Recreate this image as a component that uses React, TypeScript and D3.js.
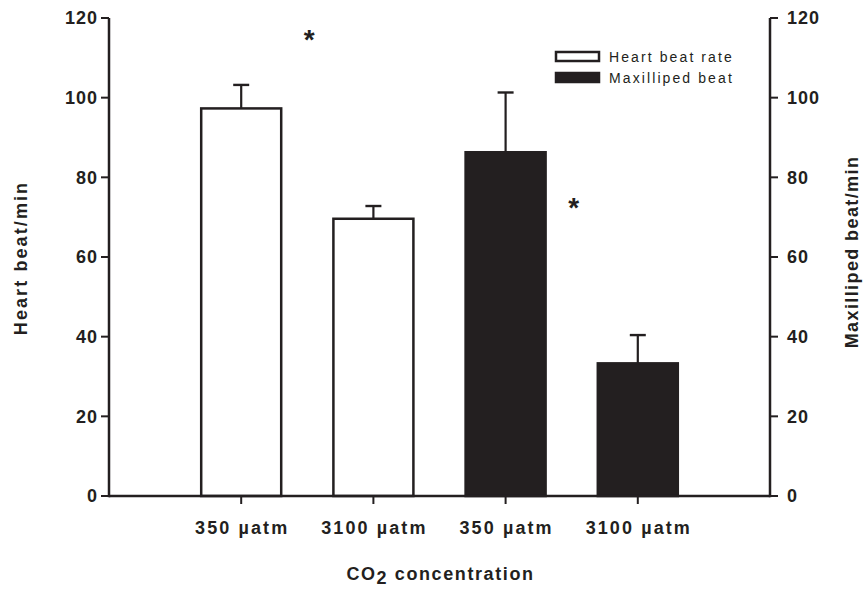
import React from "react";
import * as d3 from "d3";

const categories = ["350 µatm", "3100 µatm", "350 µatm", "3100 µatm"];
const seriesOf = ["Heart beat rate", "Heart beat rate", "Maxilliped beat", "Maxilliped beat"];
const means = [97.3, 69.6, 86.3, 33.3];
const errors = [5.9, 3.2, 15.0, 7.1];
const yTicks = [0, 20, 40, 60, 80, 100, 120];
const legendItems = ["Heart beat rate", "Maxilliped beat"];
const stars = [
  { after: 0, value: 117.4 },
  { after: 2, value: 75.4 },
];

const INK = "#231f20";

export default function App() {
  const W = 864, H = 590;
  const left = 109, right = 770, top = 18, bottom = 496;
  const idx = categories.map((_, i) => String(i));
  const x = d3.scalePoint<string>().domain(idx).range([left, right]).padding(1);
  const y = d3.scaleLinear().domain([0, 120]).range([bottom, top]);
  const step = x.step();
  const barW = 80;
  const font = "Liberation Sans, Arial, Helvetica, sans-serif";
  const fill = (s: string) => (s === legendItems[0] ? "#fff" : INK);
  const FS = 18;

  return (
    <svg width={W} height={H} style={{ position: "absolute", left: 0, top: 0 }} fontFamily={font}>
      <rect x={0} y={0} width={W} height={H} fill="#fff" />
      {/* bars */}
      {means.map((m, i) => {
        const cx = x(String(i))!;
        return (
          <g key={i}>
            <line x1={cx} x2={cx} y1={y(m)} y2={y(m + errors[i])} stroke={INK} strokeWidth={2.2} />
            <line x1={cx - 8} x2={cx + 8} y1={y(m + errors[i])} y2={y(m + errors[i])} stroke={INK} strokeWidth={2.4} />
            <rect
              x={cx - barW / 2}
              y={y(m)}
              width={barW}
              height={y(0) - y(m)}
              fill={fill(seriesOf[i])}
              stroke={INK}
              strokeWidth={2.5}
            />
          </g>
        );
      })}
      {/* axes */}
      <line x1={left} x2={right} y1={bottom} y2={bottom} stroke={INK} strokeWidth={2.5} />
      <line x1={left} x2={left} y1={top} y2={bottom + 1.25} stroke={INK} strokeWidth={2.5} />
      <line x1={right} x2={right} y1={top} y2={bottom + 1.25} stroke={INK} strokeWidth={2.5} />
      {yTicks.map((t) => (
        <g key={t}>
          <line x1={left - 8} x2={left} y1={y(t)} y2={y(t)} stroke={INK} strokeWidth={2} />
          <text x={left - 11} y={y(t)} dy="0.36em" textAnchor="end" fontSize={FS} fontWeight="bold" letterSpacing={1} fill={INK}>
            {t}
          </text>
          <line x1={right} x2={right + 8} y1={y(t)} y2={y(t)} stroke={INK} strokeWidth={2} />
          <text x={right + 17} y={y(t)} dy="0.36em" textAnchor="start" fontSize={FS} fontWeight="bold" letterSpacing={1} fill={INK}>
            {t}
          </text>
        </g>
      ))}
      {categories.map((c, i) => {
        const cx = x(String(i))!;
        return (
          <g key={i}>
            <line x1={cx} x2={cx} y1={bottom} y2={bottom + 8} stroke={INK} strokeWidth={2} />
            <text x={cx + 1} y={534} textAnchor="middle" fontSize={FS} fontWeight="bold" letterSpacing={2.1} fill={INK}>
              {c}
            </text>
          </g>
        );
      })}
      {/* axis titles */}
      <text x={(left + right) / 2 + 1} y={580} textAnchor="middle" fontSize={FS} fontWeight="bold" letterSpacing={1.6} fill={INK}>
        CO
        <tspan dy={4}>2</tspan>
        <tspan dy={-4}> concentration</tspan>
      </text>
      <text
        transform={`translate(27, 258) rotate(-90)`}
        textAnchor="middle"
        fontSize={FS}
        fontWeight="bold"
        letterSpacing={2.1}
        fill={INK}
      >
        Heart beat/min
      </text>
      <text
        transform={`translate(858, 252) rotate(-90)`}
        textAnchor="middle"
        fontSize={FS}
        fontWeight="bold"
        letterSpacing={1.4}
        fill={INK}
      >
        Maxilliped beat/min
      </text>
      {/* significance */}
      {stars.map((s, i) => (
        <text
          key={i}
          x={x(String(s.after))! + step / 2 + 2}
          y={y(s.value)}
          dy="0.75em"
          textAnchor="middle"
          fontSize={28}
          fontWeight="bold"
          fill={INK}
        >
          *
        </text>
      ))}
      {/* legend */}
      {legendItems.map((l, i) => (
        <g key={l} transform={`translate(556, ${52 + i * 21})`}>
          <rect x={0} y={0} width={43} height={9} fill={i === 0 ? "#fff" : INK} stroke={INK} strokeWidth={2.5} />
          <text x={53} y={4.5} dy="0.36em" fontSize={14} letterSpacing={2.1} fill={INK}>
            {l}
          </text>
        </g>
      ))}
    </svg>
  );
}
